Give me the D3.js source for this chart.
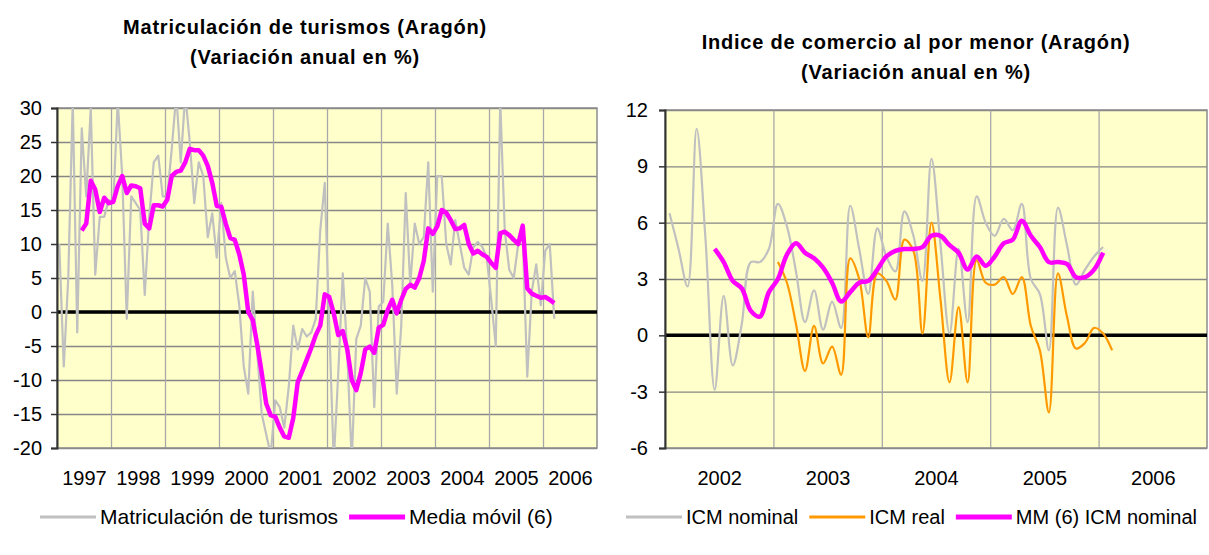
<!DOCTYPE html>
<html>
<head>
<meta charset="utf-8">
<script src="https://cdn.jsdelivr.net/npm/d3@7"></script>
<style>
    body { margin: 0; background: #fff; }
    svg { font-family: Arial, "Liberation Sans", sans-serif; }
</style>
</head>
<body>
<svg id="chart" width="1209" height="555"></svg>
<script>
// ---- left chart: car registrations, monthly from Jan 1997 ----
const carYears = ["1997", "1998", "1999", "2000", "2001", "2002", "2003", "2004", "2005", "2006"];
const carRegistrations = [
    10, -8, 5, 31, -3, 27, 17, 30, 5.5, 14, 14, 16.5,
    16, 31, 20, -1, 17, 16, 15, 2.5, 14, 22, 23, 17,
    17, 24, 32, 22, 32, 25, 16, 22, 20, 11, 14.5, 8,
    16, 8, 5, 6, 1, -8, -12, 3, -6, -15, -18, -21,
    -13, -14, -17, -11, -2, -5.5, -2.5, -3.6, -3, -1, 12, 19,
    -2, -22, -9, 5.7, -6, -22, -4, -2, 5, 3, -14, 0.8,
    1.5, 13, 4, -12, -2, 17.5, 4, 13, 10, 11, 22, 3,
    20, 20, 10, 7, 13.5, 10, 6.5, 5.5, 9.5, 10.3, 9.6, 8,
    1.8, -5, 31, 12, 6.2, 5, 10, 11, -9.5, 3, 7, 1,
    9, 10, -1
];
// 6-month moving average, first value in Jun 1997
const carAvgStart = 5;
const carMovingAvg = [
    12, 13, 19.3, 18, 14.7, 16.8, 16,
    16.2, 18.5, 20, 17.5, 18.6, 18.5, 18.2, 13, 12.3, 15.7, 15.7, 15.5,
    16.5, 20, 20.6, 20.8, 22, 24, 23.8, 23.8, 23, 21.5, 19, 15.6,
    15.5, 13, 10.9, 10.6, 8.5, 5.5, 0, -1.2, -4.8, -9, -13.5, -15.2,
    -15.4, -17, -18.3, -18.5, -15.6, -10.3, -8.7, -7, -5.3, -3.4, -2, 2.6,
    2.2, -0.2, -3.4, -2.8, -5.5, -10, -11.5, -9, -5.5, -5.1, -6, -2.3,
    -1.9, 0.3, 1.8, -0.2, 1.8, 3.4, 4, 3.6, 5, 7.5, 12.3, 11.5,
    12.6, 15, 14.6, 13.5, 12.2, 12.3, 12.8, 10, 8.6, 9, 8.5, 8.1,
    7.2, 6.5, 11.6, 11.8, 11.3, 10.6, 10, 12.7, 3.5, 2.7, 2.4, 2.1,
    2.2, 1.8, 1.3
];
const carTicks = [-20, -15, -10, -5, 0, 5, 10, 15, 20, 25, 30];

// ---- right chart: retail trade index, monthly from Jan 2002 ----
const icmYears = ["2002", "2003", "2004", "2005", "2006"];
const icmNominal = [
    6.5, 4.6, 2.6, 11, 5, -2.9, 2.1, -1.6, 0.6, 3.9, 3.9, 4.6,
    7, 5.8, 3.4, 0.7, 2.4, 0.3, 1.8, 0.4, 6.9, 4.6, 2.2, 5.7,
    4.2, 3.4, 6.6, 5.3, 2.9, 9.4, 4.8, 0.1, 4.6, 0.7, 7.4, 6,
    5.3, 6.2, 5.6, 7, 3, 2.2, -0.8, 6.8, 4.8, 2.7, 3.5, 4.2,
    4.7
];
const icmRealStart = 12;
const icmReal = [
    3.9, 2.8, 0.6, -1.9, 0.5, -1.5, -0.6, -2.1, 4.1, 3, -0.1, 3.3,
    2.9, 1.9, 5.1, 4.5, 0.1, 6, 1.9, -2.5, 1.5, -2.5, 4, 2.8,
    2.7, 3.1, 2.2, 3.1, 0.5, -0.8, -4.1, 3.3, 1, -0.7, -0.4, 0.4,
    0.1, -0.8
];
const icmAvgStart = 5;
const icmMovingAvg = [
    4.6, 3.9, 2.9, 2.5, 1.3, 1, 2.3,
    3, 4.3, 4.9, 4.4, 4.1, 3.6, 2.8, 1.8, 2.3, 2.8, 2.9, 3.5,
    4.2, 4.5, 4.6, 4.6, 4.7, 5.3, 5.3, 4.8, 4.4, 3.5, 4.2, 3.7,
    4.2, 4.9, 5.1, 6.1, 5.3, 4.7, 3.9, 3.9, 3.8, 3.1, 3.1, 3.5,
    4.4
];
const icmTicks = [-6, -3, 0, 3, 6, 9, 12];

const svg = d3.select("#chart");

function drawPanel(p) {
    const g = svg.append("g");
    const months = p.years.length * 12;
    const x = d3.scaleLinear().domain([0, months]).range([p.left, p.right]);
    const y = d3.scaleLinear().domain(d3.extent(p.yTicks)).range([p.bottom, p.top]);
    const w = p.right - p.left, h = p.bottom - p.top;

    g.append("rect")
        .attr("x", p.left).attr("y", p.top)
        .attr("width", w).attr("height", h)
        .attr("fill", "#ffffcc");

    // horizontal gridlines
    g.append("g")
        .attr("transform", `translate(${p.left},0)`)
        .call(d3.axisLeft(y).tickValues(p.yTicks).tickSize(-w).tickFormat(""))
        .call(s => s.select(".domain").remove())
        .selectAll("line").attr("stroke", "#868686").attr("stroke-width", 1.3);

    // vertical gridlines, one per year
    g.append("g")
        .attr("transform", `translate(0,${p.bottom})`)
        .call(d3.axisBottom(x).tickValues(d3.range(12, months, 12)).tickSize(-h).tickFormat(""))
        .call(s => s.select(".domain").remove())
        .selectAll("line").attr("stroke", "#a8a8a8").attr("stroke-width", 1.3);

    // plot border
    g.append("rect")
        .attr("x", p.left).attr("y", p.top)
        .attr("width", w).attr("height", h)
        .attr("fill", "none").attr("stroke", "#8c8c8c").attr("stroke-width", 1.5);

    // zero line
    g.append("line")
        .attr("x1", p.left).attr("x2", p.right)
        .attr("y1", y(0)).attr("y2", y(0))
        .attr("stroke", "#000").attr("stroke-width", 3.5);

    g.append("clipPath").attr("id", p.id + "-clip")
        .append("rect")
        .attr("x", p.left).attr("y", p.top)
        .attr("width", w).attr("height", h);

    const lines = g.append("g").attr("clip-path", `url(#${p.id}-clip)`);
    p.series.forEach(s => {
        const line = d3.line()
            .x((d, i) => x(s.start + i + 0.5))
            .y(d => y(d))
            .curve(p.smooth ? d3.curveCatmullRom : d3.curveLinear);
        lines.append("path")
            .datum(s.values)
            .attr("fill", "none")
            .attr("stroke", s.color)
            .attr("stroke-width", s.width)
            .attr("stroke-linejoin", "round")
            .attr("d", line);
    });

    // value axis (plain hyphen for negatives, as in the original)
    const yAxis = g.append("g")
        .attr("transform", `translate(${p.left},0)`)
        .call(d3.axisLeft(y).tickValues(p.yTicks).tickSize(6).tickPadding(p.labelPad)
            .tickFormat(d => String(d)));
    yAxis.attr("font-family", null).attr("font-size", null);
    yAxis.select(".domain").attr("stroke", "#333").attr("stroke-width", 2);
    yAxis.selectAll("line").attr("stroke", "#333").attr("stroke-width", 1.5);
    yAxis.selectAll("text").attr("font-size", 20).attr("fill", "#000");

    // year labels centred on each year
    const xAxis = g.append("g")
        .attr("transform", `translate(0,${p.bottom})`)
        .call(d3.axisBottom(x)
            .tickValues(d3.range(p.years.length).map(k => k * 12 + 6))
            .tickFormat((d, k) => p.years[k])
            .tickSize(0).tickPadding(23));
    xAxis.attr("font-family", null).attr("font-size", null);
    xAxis.select(".domain").remove();
    xAxis.selectAll("text").attr("font-size", 20).attr("fill", "#000");

    // title
    const title = g.append("text")
        .attr("text-anchor", "middle")
        .attr("font-weight", "bold")
        .attr("font-size", 20)
        .attr("letter-spacing", 0.8);
    p.title.forEach((t, k) => {
        title.append("tspan").attr("x", p.titleX).attr("y", p.titleY + k * 30).text(t);
    });

    // legend
    let lx = p.legendX;
    const ly = 517;
    p.series.forEach(s => {
        g.append("line")
            .attr("x1", lx).attr("x2", lx + 56)
            .attr("y1", ly).attr("y2", ly)
            .attr("stroke", s.color).attr("stroke-width", s.legendWidth);
        const t = g.append("text")
            .attr("x", lx + 60).attr("y", ly + 7)
            .attr("font-size", p.legendSize)
            .text(s.name);
        lx += 60 + t.node().getComputedTextLength() + 11;
    });
}

drawPanel({
    id: "car",
    left: 57, right: 597, top: 108, bottom: 448,
    years: carYears,
    yTicks: carTicks,
    labelPad: 9,
    smooth: false,
    title: ["Matriculación de turismos (Aragón)", "(Variación anual en %)"],
    titleX: 305, titleY: 34,
    legendX: 40, legendSize: 21,
    series: [
        { name: "Matriculación de turismos", values: carRegistrations, start: 0, color: "#c0c0c0", width: 2.2, legendWidth: 3 },
        { name: "Media móvil (6)", values: carMovingAvg, start: carAvgStart, color: "#ff00ff", width: 4.5, legendWidth: 5 }
    ]
});

drawPanel({
    id: "icm",
    left: 665, right: 1207, top: 110, bottom: 448,
    years: icmYears,
    yTicks: icmTicks,
    labelPad: 11,
    smooth: true,
    title: ["Indice de comercio al por menor (Aragón)", "(Variación anual en %)"],
    titleX: 916, titleY: 49,
    legendX: 626, legendSize: 20,
    series: [
        { name: "ICM nominal", values: icmNominal, start: 0, color: "#c0c0c0", width: 2.2, legendWidth: 3 },
        { name: "ICM real", values: icmReal, start: icmRealStart, color: "#ff9900", width: 2.2, legendWidth: 3 },
        { name: "MM (6) ICM nominal", values: icmMovingAvg, start: icmAvgStart, color: "#ff00ff", width: 4.5, legendWidth: 5 }
    ]
});
</script>
</body>
</html>
